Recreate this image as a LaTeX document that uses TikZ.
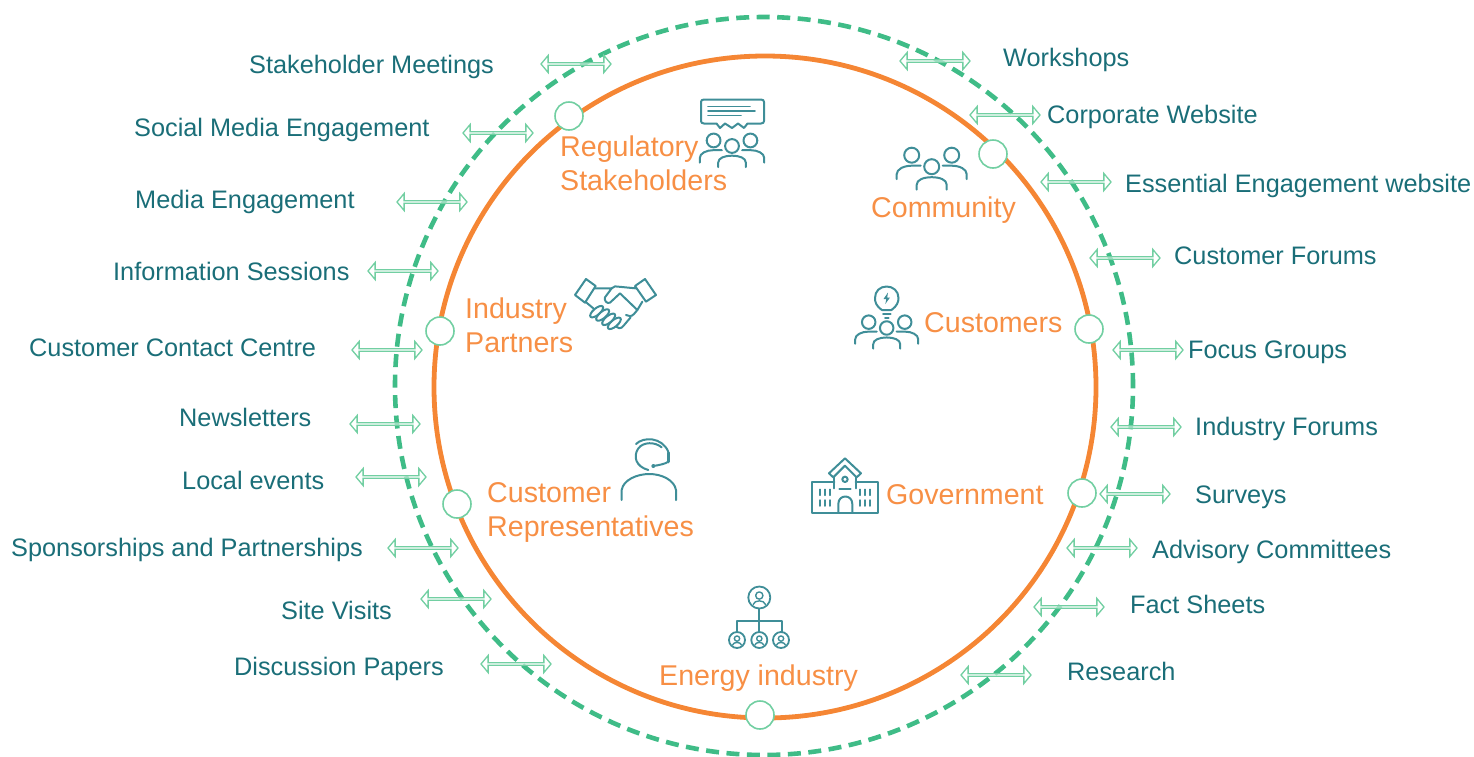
\documentclass[tikz,border=0pt]{standalone}
\usepackage{fontspec}
\setmainfont{Liberation Sans}
\usetikzlibrary{shapes.arrows}
\definecolor{labelteal}{HTML}{1A6E78}
\definecolor{iconteal}{HTML}{3F8E98}
\definecolor{ringorange}{HTML}{F58634}
\definecolor{textorange}{HTML}{F78F45}
\definecolor{ringgreen}{HTML}{3FBC87}
\definecolor{arrowgreen}{HTML}{72CFA2}
\tikzset{
  darrow/.style={shape=double arrow,draw=arrowgreen,line width=1.3pt,fill=white,fill opacity=.6,draw opacity=1,
    minimum width=17pt,double arrow head extend=3.5pt,minimum height=70pt,inner sep=0pt,
    double arrow tip angle=100},
  lbl/.style={text=labelteal,font=\fontsize{25.3}{28}\selectfont,inner sep=0pt,anchor=base west},
  grp/.style={text=textorange,font=\fontsize{28.6}{33}\selectfont,inner sep=0pt,anchor=base west},
  knob/.style={circle,draw=arrowgreen,line width=1.6pt,fill=white,minimum size=28pt,inner sep=0pt},
  ico/.style={draw=iconteal,line width=2pt,line cap=round,line join=round},
  pics/persons/.style={code={
    \draw[ico] (0,0) circle (7.5);
    \draw[ico] (-15,23) -- (-15,18) .. controls (-15,13) and (-8,10.5) .. (0,10.5) .. controls (8,10.5) and (15,13) .. (15,18) -- (15,23);
    \draw[ico] (-20,#1) circle (7.5);
    \draw[ico] (20,#1) circle (7.5);
    \draw[ico] (-35,#1+24) -- (-35,#1+19) .. controls (-35,#1+14) and (-28,#1+10.5) .. (-20,#1+10.5) -- (-11,#1+10.5);
    \draw[ico] (35,#1+24) -- (35,#1+19) .. controls (35,#1+14) and (28,#1+10.5) .. (20,#1+10.5) -- (11,#1+10.5);
  }},
  pics/orgperson/.style={code={
    \draw[ico,line width=1.8pt] (0,0) circle (#1);
    \draw[ico,line width=1.4pt] (0,-.18*#1) circle (.33*#1);
    \draw[ico,line width=1.4pt] (-.55*#1,.62*#1) .. controls (-.45*#1,.2*#1) and (.45*#1,.2*#1) .. (.55*#1,.62*#1);
  }}
}
\begin{document}
\begin{tikzpicture}[x=1pt,y=-1pt]
\useasboundingbox (0,0) rectangle (1474,756);
% rings
\node[circle,draw=ringgreen,line width=4.6pt,dash pattern=on 13pt off 7.5pt,minimum size=738pt,inner sep=0pt] (outer) at (764,386) {};
\node[circle,draw=ringorange,line width=4.8pt,minimum size=662pt,inner sep=0pt] (inner) at (765,387) {};
% arrows left
\node[darrow] (al1) at (576,64) {};
\node[darrow] (al2) at (498,133) {};
\node[darrow] (al3) at (432,202) {};
\node[darrow] (al4) at (403,271) {};
\node[darrow] (al5) at (387,350) {};
\node[darrow] (al6) at (385,424) {};
\node[darrow] (al7) at (391,477) {};
\node[darrow] (al8) at (423,548) {};
\node[darrow] (al9) at (456,599) {};
\node[darrow] (al10) at (516,664) {};
% arrows right
\node[darrow] (ar1) at (935,61) {};
\node[darrow] (ar2) at (1005,115) {};
\node[darrow] (ar3) at (1076,182) {};
\node[darrow] (ar4) at (1125,258) {};
\node[darrow] (ar5) at (1148,350) {};
\node[darrow] (ar6) at (1146,427) {};
\node[darrow] (ar7) at (1135,494) {};
\node[darrow] (ar8) at (1102,548) {};
\node[darrow] (ar9) at (1069,607) {};
\node[darrow] (ar10) at (996,675) {};
% knobs
\node[knob] (k1) at (569,116) {};
\node[knob] (k2) at (993,154) {};
\node[knob] (k3) at (1089,329) {};
\node[knob] (k4) at (1082,493) {};
\node[knob] (k5) at (760,715) {};
\node[knob] (k6) at (457,504) {};
\node[knob] (k7) at (440,331) {};
% left labels
\node[lbl] (l1) at (249,73) {Stakeholder Meetings};
\node[lbl] (l2) at (134,136) {Social Media Engagement};
\node[lbl] (l3) at (135,208.5) {Media Engagement};
\node[lbl] (l4) at (113,280) {Information Sessions};
\node[lbl] (l5) at (29,356) {Customer Contact Centre};
\node[lbl] (l6) at (179,426) {Newsletters};
\node[lbl] (l7) at (182,489.5) {Local events};
\node[lbl] (l8) at (11,556.5) {Sponsorships and Partnerships};
\node[lbl] (l9) at (281,619.5) {Site Visits};
\node[lbl] (l10) at (234,675) {Discussion Papers};
% right labels
\node[lbl] (r1) at (1003,66) {Workshops};
\node[lbl] (r2) at (1047,123.5) {Corporate Website};
\node[lbl] (r3) at (1125,192) {Essential Engagement website};
\node[lbl] (r4) at (1174,264) {Customer Forums};
\node[lbl] (r5) at (1188,358) {Focus Groups};
\node[lbl] (r6) at (1195,435.5) {Industry Forums};
\node[lbl] (r7) at (1195,503.5) {Surveys};
\node[lbl] (r8) at (1152,558.5) {Advisory Committees};
\node[lbl] (r9) at (1130,613.5) {Fact Sheets};
\node[lbl] (r10) at (1067,680.5) {Research};
% groups
\node[grp] (g1a) at (560,156) {Regulatory};
\node[grp] (g1b) at (560,190) {Stakeholders};
\node[grp] (g2) at (871,217) {Community};
\node[grp] (g3) at (924,332) {Customers};
\node[grp] (g4a) at (465,318) {Industry};
\node[grp] (g4b) at (465,352) {Partners};
\node[grp] (g5a) at (487,502) {Customer};
\node[grp] (g5b) at (487,536) {Representatives};
\node[grp] (g6) at (886,504) {Government};
\node[grp] (g7) at (659,685) {Energy industry};
% icon: regulatory
\pic at (732,146) [scale=.92] {persons=-6};
\draw[ico] (704,99.5) -- (761,99.5) .. controls (763,99.5) and (764,100.5) .. (764,102) -- (764,121) .. controls (764,122.5) and (763,123.5) .. (761,123.5)
  -- (747.5,123.5) -- (744,128) -- (738,123.5) -- (732,128) -- (725,123.5) -- (720,128) -- (716.5,123.5) -- (704,123.5)
  .. controls (702,123.5) and (701,122.5) .. (701,121) -- (701,102) .. controls (701,100.5) and (702,99.5) .. (704,99.5) -- cycle;
\draw[ico,line width=1.6pt] (708,106.5) -- (750,106.5) (708,111) -- (755,111) (708,115.5) -- (741,115.5);
% icon: community
\pic at (931.7,166.7) {persons=-11.5};
% icon: customers
\pic at (886.7,328) [scale=.9] {persons=-6.5};
\draw[ico] (882,310) .. controls (876,306) and (875,302) .. (875,298) .. controls (875,291) and (880,286.5) .. (886.7,286.5)
  .. controls (893,286.5) and (898.5,291) .. (898.5,298) .. controls (898.5,302) and (897,306) .. (891.5,310) -- cycle;
\draw[ico] (883,314) -- (890.5,314) (885,317.5) -- (888.5,317.5);
\fill[iconteal] (888,292.5) -- (883.5,299) -- (886.3,299) -- (885.3,304) -- (890,297.5) -- (887.2,297.5) -- cycle;
% icon: handshake
\begin{scope}[shift={(560,260)},x=.3333pt,y=-.3333pt]
\draw[ico] (78,57) -- (107,78) -- (75,128) -- (45,105) -- cycle;
\draw[ico] (255,57) -- (225,78) -- (258,125) -- (288,105) -- cycle;
\draw[ico] (105,85) -- (155,85) -- (135,112) .. controls (132,122) and (140,132) .. (150,128) -- (180,100) -- (232,150);
\draw[ico] (155,85) .. controls (162,78) and (168,78) .. (175,80) -- (227,85);
\draw[ico] (247,125) -- (232,150) -- (222,162) .. controls (215,170) and (205,170) .. (198,165);
\draw[ico] (212,172) -- (190,198) .. controls (182,208) and (174,205) .. (168,200);
\draw[ico] (76,125) -- (100,145);
\foreach \px/\py in {110/155,128/165,146/178,163/190}{
  \draw[ico,rotate around={40:(\px,\py)}] (\px,\py) ellipse [x radius=24,y radius=10];
}
\end{scope}
% icon: headset
\begin{scope}[shift={(600,430)},x=.3333pt,y=-.3333pt]
\draw[ico] (185,52) .. controls (165,35) and (130,35) .. (115,55) .. controls (98,80) and (108,110) .. (145,120);
\draw[ico] (108,42) .. controls (130,20) and (185,20) .. (205,65);
\draw[ico,line width=3.5pt] (205,68) -- (205,95);
\draw[ico] (205,95) .. controls (195,102) and (178,105) .. (160,108);
\fill[iconteal] (160,108) circle (6);
\draw[ico] (65,210) -- (65,180) .. controls (70,150) and (110,132) .. (148,132) .. controls (185,132) and (223,150) .. (228,180) -- (228,210);
\end{scope}
% icon: building
\begin{scope}[shift={(600,430)},x=.3333pt,y=-.3333pt]
\draw[ico] (703,155) -- (637,155) -- (637,248) -- (833,248) -- (833,155) -- (767,155);
\draw[ico] (687,130) -- (735,85) -- (783,130) -- (770,142) -- (735,107) -- (700,142) -- cycle;
\draw[ico] (703,142) -- (703,175) (767,142) -- (767,175);
\draw[ico] (735,148) circle (8);
\draw[ico] (718,178) -- (752,178);
\draw[ico] (715,248) -- (715,222) .. controls (715,192) and (757,192) .. (757,222) -- (757,248);
\foreach \wx in {660,675,690,780,795,810}{
  \draw[ico,line width=1.5pt] (\wx,178) -- (\wx,196) (\wx,210) -- (\wx,228);
}
\end{scope}
% icon: org chart
\pic at (759.3,597.5) {orgperson=11};
\pic at (737,640) {orgperson=8};
\pic at (759.3,640) {orgperson=8};
\pic at (781,640) {orgperson=8};
\draw[ico] (759.3,608.5) -- (759.3,632) (737,632) -- (737,621) -- (781.5,621) -- (781.5,632);
\end{tikzpicture}
\end{document}
